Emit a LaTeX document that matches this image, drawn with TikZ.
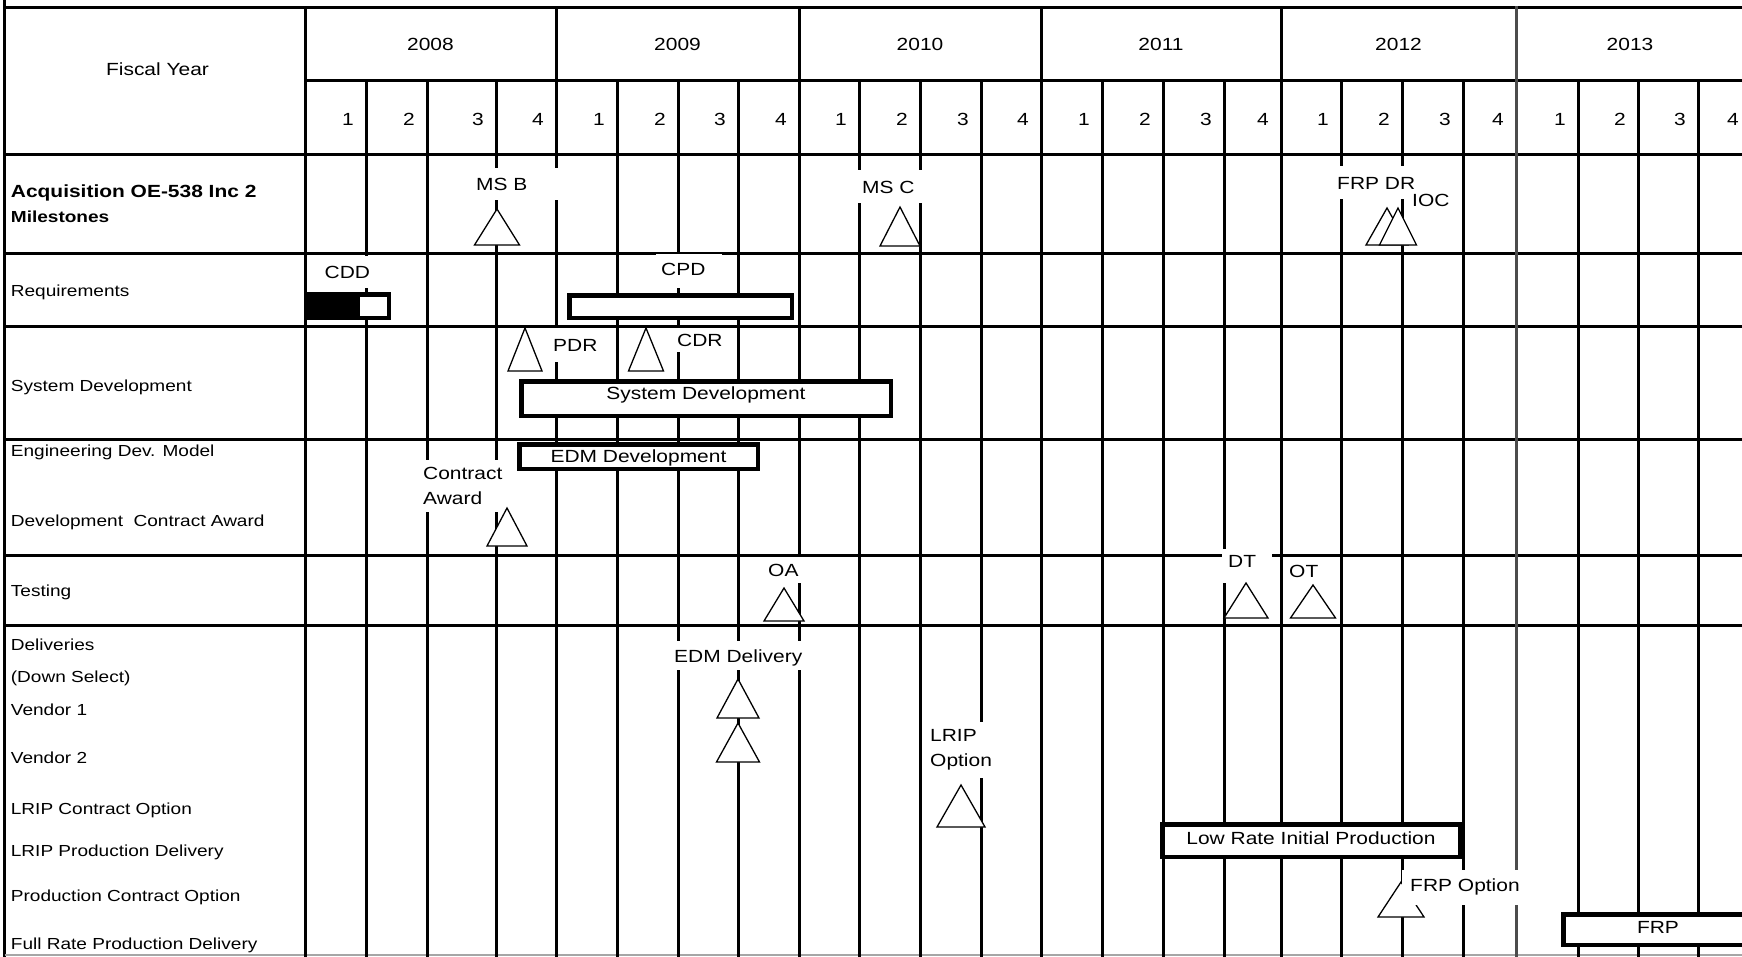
\documentclass[tikz,border=0pt]{standalone}
\usepackage{fontspec}
\setmainfont{Liberation Sans}[FakeStretch=1.19]
\newcommand{\chartfont}{\fontsize{17.6}{25}\selectfont}
\newcommand{\rowfont}{\fontsize{16}{20}\selectfont}
% milestone triangle: apex x, apex y, height, half base
\newcommand{\milestone}[4]{\draw[tri] (#1,#2) -- ++(#4,#3) -- ++(-2*#4,0) -- cycle;}

\begin{document}
\begin{tikzpicture}[
    x=1pt, y=-1pt,
    grid/.style={line width=3pt, line cap=rect},
    hdr/.style={font=\chartfont, inner sep=0pt, text height=12.6pt, text depth=0pt},
    qtr/.style={hdr, anchor=east},
    rowlbl/.style={font=\rowfont, anchor=west, inner sep=0pt, text height=11.5pt, text depth=0pt},
    bar/.style={draw, line width=4.5pt, fill=white, anchor=north west, inner sep=0pt, font=\chartfont, text height=12.6pt, text depth=5pt},
    tag/.style={fill=white, anchor=north west, inner ysep=0pt, align=left, font=\chartfont, text height=12.6pt, text depth=0pt},
    tri/.style={draw, fill=white, line width=1.3pt, line join=miter}
]
\useasboundingbox (0,0) rectangle (1742,956);
\clip (0,0) rectangle (1742,956);

% table grid
\draw[grid] (4.6,0) -- (4.6,956);
\draw[grid] (4.6,7) -- (1742,7);
\draw[grid] (305,80) -- (1742,80);
\foreach \y in {154.5,253,326,439,555,625}
    \draw[grid] (4.6,\y) -- (1742,\y);
\draw[gray!70, line width=1.5pt] (4.6,955) -- (1742,955);
\foreach \x in {305,556,799,1041,1281}
    \draw[grid] (\x,7) -- (\x,956);
\draw[grid, black!70] (1516,7) -- (1516,956);
\foreach \x in {366,427,496,617,678,738,859,920,981,1102,1163,1224,1341,1402,1463,1578,1638,1698}
    \draw[grid] (\x,80) -- (\x,956);

% header
\node[hdr] (fy) at (157.5,69.6) {Fiscal Year};
\foreach \c/\yr in {430.5/2008,677.5/2009,920/2010,1161/2011,1398.5/2012,1630/2013}
    \node[hdr] (y\yr) at (\c,44.5) {\yr};
\foreach \r/\q in {366/1,427/2,496/3,556/4,617/1,678/2,738/3,799/4,859/1,920/2,981/3,1041/4,
                   1102/1,1163/2,1224/3,1281/4,1341/1,1402/2,1463/3,1516/4,1578/1,1638/2,1698/3,1751/4}
    \node[qtr] (q\r) at (\r-12,119.5) {\q};

% row labels
\node[rowlbl, font=\chartfont\bfseries, text height=12.6pt] (acq) at (10.7,191.3) {Acquisition OE-538 Inc 2};
\node[rowlbl, font=\rowfont\bfseries] (acqms) at (10.7,217) {Milestones};
\node[rowlbl] (req) at (10.7,291) {Requirements};
\node[rowlbl] (sysdev) at (10.7,386) {System Development};
\node[rowlbl] (edm) at (10.7,451) {Engineering Dev. Model};
\node[rowlbl] (devaward) at (10.7,520.5) {Development~~Contract Award};
\node[rowlbl] (test) at (10.7,590.5) {Testing};
\node[rowlbl] (deliv) at (10.7,645) {Deliveries};
\node[rowlbl] (downsel) at (10.7,677) {(Down Select)};
\node[rowlbl] (vend1) at (10.7,709.5) {Vendor 1};
\node[rowlbl] (vend2) at (10.7,758) {Vendor 2};
\node[rowlbl] (lripco) at (10.7,809) {LRIP Contract Option};
\node[rowlbl] (lrippd) at (10.7,851) {LRIP Production Delivery};
\node[rowlbl] (prodco) at (10.7,896) {Production Contract Option};
\node[rowlbl] (frpd) at (10.7,944) {Full Rate Production Delivery};

% bars
\node[bar, minimum width=82.5pt, minimum height=23.5pt] (cddbar) at (304,292) {};
\fill (cddbar.north west) rectangle (360,320);
\node[bar, minimum width=222.5pt, minimum height=22.5pt] (cpdbar) at (567,293) {};
\node[bar, minimum width=369.5pt, minimum height=34.5pt, text depth=10pt] (sysdevbar) at (519,379) {System Development};
\node[bar, minimum width=238.5pt, minimum height=24.5pt, text depth=0pt] (edmbar) at (517,442) {EDM Development};
\node[bar, minimum width=297.5pt, minimum height=32.5pt] (lripbar) at (1160,822) {Low Rate Initial Production};
\node[bar, minimum width=189.5pt, minimum height=30.5pt] (frpbar) at (1561,912) {FRP};

% milestone labels
\node[tag, inner xsep=6pt, text width=78pt, minimum height=32pt] (msb) at (470,168) {MS~B};
\node[tag, inner xsep=6pt, text width=58pt, minimum height=33pt] (msc) at (856,170) {MS~C};
\node[tag, inner xsep=3pt, text width=80pt, minimum height=33pt] (frpdr) at (1334,166) {FRP~DR};
\node[tag, inner xsep=3pt, text width=40pt, minimum height=16pt] (ioc) at (1409,192) {IOC};
\node[tag, inner xsep=4.5pt, text width=46pt, minimum height=32pt] (cdd) at (320,256) {CDD};
\node[tag, inner xsep=5pt, text width=56pt, minimum height=34pt, text depth=5pt] (cpd) at (656,254) {CPD};
\node[tag, inner xsep=4pt, text width=47pt, minimum height=34pt] (pdr) at (549,328) {PDR};
\node[tag, inner xsep=4pt, text width=48pt, minimum height=24pt] (cdr) at (673,328) {CDR};
\node[tag, inner xsep=4pt, text width=83pt, minimum height=52pt, text height=, text depth=] (award) at (419,460) {Contract\\Award};
\node[tag, inner xsep=5pt, text width=39pt, minimum height=26pt] (oa) at (763,557) {OA};
\node[tag, inner xsep=6pt, text width=38pt, minimum height=34pt, text depth=11pt] (dt) at (1222,549) {DT};
\node[tag, inner xsep=5pt, text width=40pt, minimum height=25pt] (ot) at (1284,558) {OT};
\node[tag, inner xsep=3pt, text width=130pt, minimum height=29pt] (edmdel) at (671,641) {EDM~Delivery};
\node[tag, inner xsep=4pt, text width=63pt, minimum height=56pt, text height=, text depth=] (lripopt) at (926,722) {LRIP\\Option};

% milestones
\milestone{497}{209}{36}{22.5}
\milestone{900}{207}{39}{20}
\milestone{1387}{208}{37}{21}
\milestone{1398}{208}{37}{18.5}
\milestone{525}{328}{43}{17}
\milestone{646}{328}{43}{17.5}
\milestone{507}{508}{38}{20}
\milestone{784}{588}{33}{20}
\milestone{1246}{583}{35}{22}
\milestone{1313}{585}{33}{22.5}
\milestone{738}{679}{39}{21}
\milestone{738}{723}{39}{21.5}
\milestone{961}{785}{42}{24}
\milestone{1401}{882}{35}{23}

\node[tag, inner xsep=8pt, text width=114pt, minimum height=35pt, text depth=6pt] (frpopt) at (1402,870) {FRP~Option};
\end{tikzpicture}
\end{document}
